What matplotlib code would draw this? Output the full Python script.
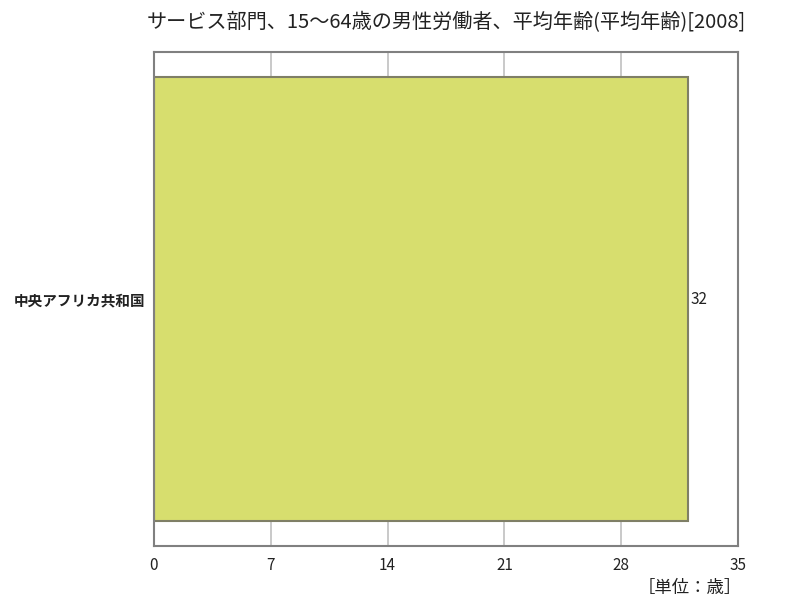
import matplotlib
matplotlib.use("Agg")
import matplotlib.pyplot as plt
from matplotlib import font_manager

plt.rcParams['font.family'] = ['Noto Sans CJK JP', 'DejaVu Sans']

categories = ["中央アフリカ共和国"]
values = [32]
xticks = [0, 7, 14, 21, 28, 35]
title = "サービス部門、15〜64歳の男性労働者、平均年齢(平均年齢)[2008]"
unit = "［単位：歳］"

names = {f.name for f in font_manager.fontManager.ttflist}
num_family = ['Liberation Sans Narrow', 'DejaVu Sans'] if 'Liberation Sans Narrow' in names else ['Noto Sans CJK JP', 'DejaVu Sans']

fig = plt.figure(figsize=(8, 6), dpi=100)
ax = fig.add_axes([154/800, 1-546/600, (738-154)/800, (546-52)/600])

ax.barh([0], values, height=0.897, align='center', color='#D7DE6E',
        edgecolor='#7F7F66', linewidth=1.5, zorder=2)
ax.set_xlim(0, 35)
ax.set_ylim(-0.5, 0.5)
ax.set_xticks(xticks)
ax.set_xticklabels([str(t) for t in xticks], fontsize=11, color='#222222', family=num_family)
ax.set_yticks([0])
ax.set_yticklabels(categories, fontsize=10.5, fontweight='bold', color='#222222')
ax.tick_params(axis='x', length=0, pad=8)
ax.tick_params(axis='y', length=0, pad=6)
ax.grid(axis='x', color='#C0C0C0', linewidth=1.2, zorder=0)
for s in ax.spines.values():
    s.set_color('#808080')
    s.set_linewidth(1.5)

for i, v in enumerate(values):
    ax.text(v + 0.15, i, str(v), va='center', ha='left', fontsize=11, color='#222222', family=num_family)

fig.text(446/800, 1-23/600, title, ha='center', va='center', fontsize=14.5, color='#222222')
fig.text(742/800, 1-588/600, unit, ha='right', va='center', fontsize=12.5, color='#222222')

fig.savefig("out.png", dpi=100)
